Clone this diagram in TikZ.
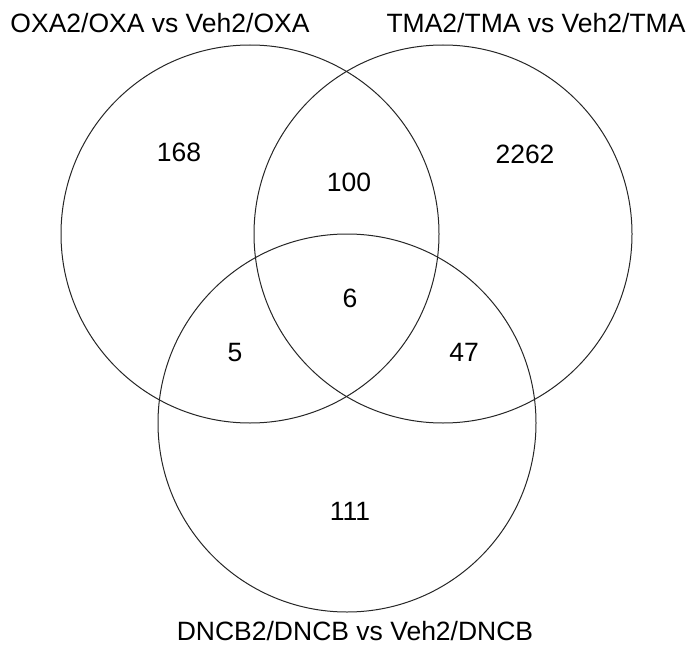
\documentclass[tikz,border=0pt]{standalone}
\usepackage{fontspec}
\setmainfont{Liberation Sans}
\usetikzlibrary{positioning}

\tikzset{
	setlabel/.style={anchor=base,font=\fontsize{26.5}{30}\selectfont},
	count/.style={anchor=base,font=\fontsize{26.5}{30}\selectfont},
	setline/.style={line width=1pt,black!85}
}

\begin{document}
\begin{tikzpicture}[x=1pt,y=-1pt]
\useasboundingbox (0,0) rectangle (698,647);
\def\rad{189pt}

\foreach \cx/\cy in {250/234,443/234,347/423}
{
	\draw[setline] (\cx,\cy) circle (\rad);
}

% set names
\node[setlabel] (oxa) at (160,33) {OXA2/OXA vs Veh2/OXA};
\node[setlabel] (tma) at (536,33) {TMA2/TMA vs Veh2/TMA};
\node[setlabel] (dncb) at (355,640) {DNCB2/DNCB vs Veh2/DNCB};

% counts
\node[count] (onlyoxa) at (179,161) {168};
\node[count] (onlytma) at (525,164) {2262};
\node[count] (oxatma) at (349,192) {100};
\node[count] (all) at (350,307) {6};
\node[count] (oxadncb) at (235,361) {5};
\node[count] (tmadncb) at (464,361) {47};
\node[count] (onlydncb) at (350,520) {111};

\end{tikzpicture}
\end{document}
